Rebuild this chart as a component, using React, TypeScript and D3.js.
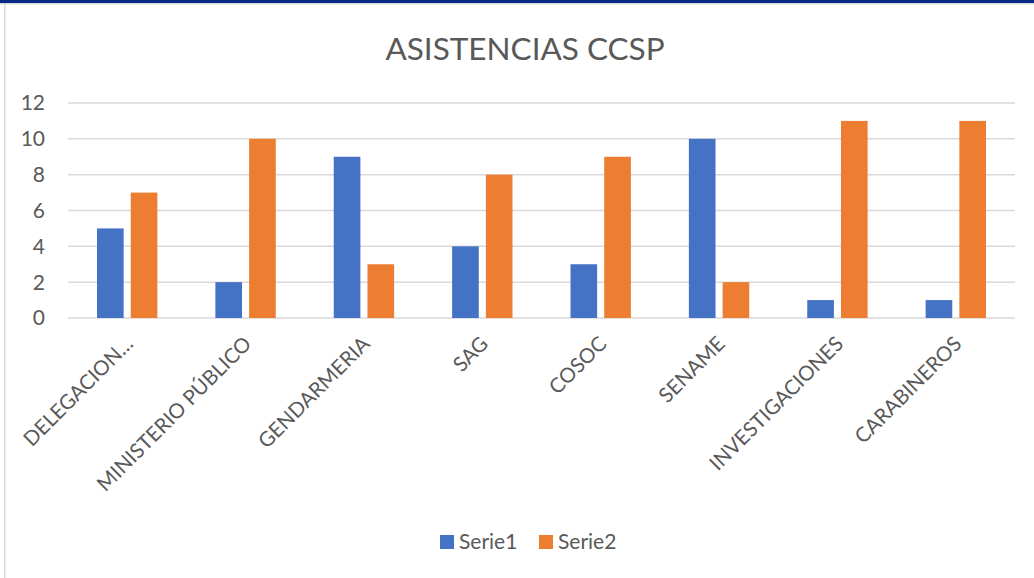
import React from "react";
import * as d3 from "d3";

const categories = ["DELEGACION…", "MINISTERIO PÚBLICO", "GENDARMERIA", "SAG", "COSOC", "SENAME", "INVESTIGACIONES", "CARABINEROS"];
const serie1 = [5, 2, 9, 4, 3, 10, 1, 1];
const serie2 = [7, 10, 3, 8, 9, 2, 11, 11];
const seriesNames = ["Serie1", "Serie2"];
const yTicks = [0, 2, 4, 6, 8, 10, 12];
const title = "ASISTENCIAS CCSP";

const W = 1034, H = 578;
const colors = ["#4472C4", "#ED7D31"];
const textColor = "#595959";
const font = "Lato, 'Open Sans', sans-serif";

export default function App() {
  const left = 68, right = 1015, top = 103, bottom = 318;
  const x = d3.scaleBand<string>().domain(categories).range([left, right]).paddingInner(0.49).paddingOuter(0.245);
  const x1 = d3.scaleBand<string>().domain(seriesNames).range([0, x.bandwidth()]).paddingInner(0.21);
  const y = d3.scaleLinear().domain([0, 12]).range([bottom, top]);
  const data = [serie1, serie2];
  return (
    <div style={{ position: "fixed", left: 0, top: 0 }}>
      <svg width={W} height={H} style={{ display: "block", fontFamily: font }}>
        <rect x={0} y={0} width={W} height={H} fill="#fff" />
        <rect x={0} y={0} width={W} height={3} fill="#0B2A87" />
        <rect x={0} y={3} width={W} height={1.5} fill="#D9D9D9" />
        <rect x={4} y={3} width={1.5} height={H} fill="#D9D9D9" />
        <text x={525} y={60} textAnchor="middle" fontSize={31.5} fill={textColor}>{title}</text>
        {yTicks.map(t => (
          <g key={t}>
            <line x1={left} x2={right} y1={y(t)} y2={y(t)} stroke="#D9D9D9" strokeWidth={1.5} />
            <text x={45} y={y(t)} dy="0.35em" textAnchor="end" fontSize={21} fill={textColor}>{t}</text>
          </g>
        ))}
        {categories.map((c, i) => (
          <g key={c}>
            {data.map((s, j) => (
              <rect key={j} x={(x(c) as number) + (x1(seriesNames[j]) as number)} y={y(s[i])} width={x1.bandwidth()} height={y(0) - y(s[i])} fill={colors[j]} />
            ))}
            <text transform={`translate(${(x(c) as number) + x.bandwidth() / 2 - 3},${335}) rotate(-45)`} textAnchor="end" dy="0.7em" fontSize={20.5} fill={textColor}>{c}</text>
          </g>
        ))}
        {seriesNames.map((n, j) => (
          <g key={n} transform={`translate(${440 + j * 99},535)`}>
            <rect x={0} y={0} width={14} height={14} fill={colors[j]} />
            <text x={19} y={14} fontSize={21} fill={textColor}>{n}</text>
          </g>
        ))}
      </svg>
    </div>
  );
}
